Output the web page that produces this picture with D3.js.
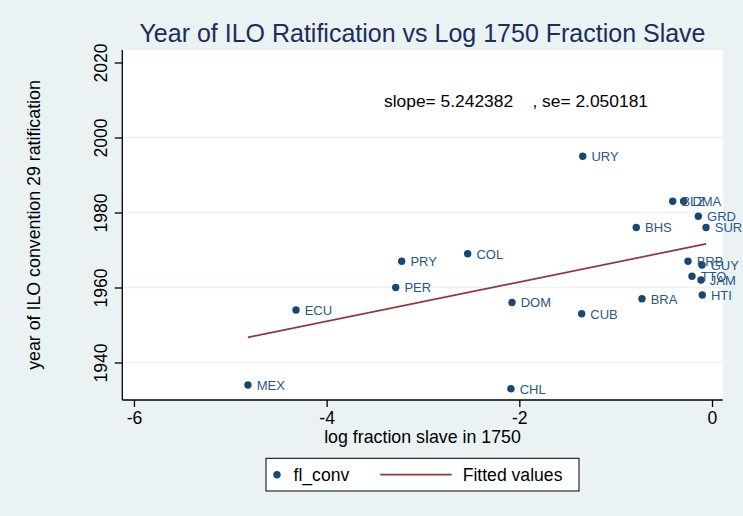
<!DOCTYPE html>
<html>
<head>
<meta charset="utf-8">
<script src="https://cdn.jsdelivr.net/npm/d3@7"></script>
<style>
  html, body { margin: 0; padding: 0; background: #eaf2f3; }
  svg { display: block; font-family: "Liberation Sans", Arial, sans-serif; }
</style>
</head>
<body>
<svg id="chart" width="743" height="516"></svg>
<script>
// ---- data ----
const countries = ["MEX","ECU","PER","PRY","COL","DOM","CHL","URY","CUB","BRA","BHS","BLZ","DMA","GRD","SUR","BRB","GUY","TTO","JAM","HTI"];
const logFracSlave = [-4.817,-4.318,-3.283,-3.221,-2.536,-2.076,-2.087,-1.342,-1.353,-0.727,-0.786,-0.408,-0.294,-0.142,-0.062,-0.249,-0.104,-0.208,-0.114,-0.101];
const ratYear = [1934,1954,1960,1967,1969,1956,1933,1995,1953,1957,1976,1983,1983,1979,1976,1967,1966,1963,1962,1958];
const xTicks = [-6,-4,-2,0];
const yTicks = [1940,1960,1980,2000,2020];
const yGrid = [1940,1960,1980,2000];
const slope = 5.242382;
const se = 2.050181;
const titleText = "Year of ILO Ratification vs Log 1750 Fraction Slave";
const xTitle = "log fraction slave in 1750";
const yTitle = "year of ILO convention 29 ratification";
const legendLabels = ["fl_conv", "Fitted values"];

// ---- layout ----
const svg = d3.select("#chart");
const W = 743, H = 516;
const plot = {l: 122.3, r: 722.7, t: 50, b: 400};
const navy = "#1a476f", maroon = "#90353b", bg = "#eaf2f3";

svg.append("rect").attr("width", W).attr("height", H).attr("fill", bg);
svg.append("rect").attr("x", plot.l).attr("y", plot.t)
  .attr("width", plot.r - plot.l).attr("height", plot.b - plot.t).attr("fill", "#fff");

const x = d3.scaleLinear().domain([-6.121, 0.111]).range([plot.l, plot.r]);
const y = d3.scaleLinear().domain([1930, 2023.333]).range([plot.b, plot.t]);

// gridlines
svg.append("g").selectAll("line").data(yGrid).join("line")
  .attr("x1", plot.l).attr("x2", plot.r)
  .attr("y1", d => y(d)).attr("y2", d => y(d))
  .attr("stroke", bg).attr("stroke-width", 1.6);

// axes
const xAxis = d3.axisBottom(x).tickValues(xTicks).tickSize(7).tickPadding(5).tickFormat(d3.format("d"));
const gx = svg.append("g").attr("transform", `translate(0,${plot.b})`).call(xAxis);
gx.select(".domain").attr("d", `M${plot.l},0H${plot.r}`).attr("stroke", "#000").attr("stroke-width", 1.3);
gx.selectAll(".tick line").attr("stroke", "#000").attr("stroke-width", 1.3);
gx.selectAll(".tick text").attr("font-size", 17.6).attr("fill", "#000")
  .attr("font-family", "Liberation Sans, Arial, sans-serif").attr("dy", "0.71em")
  .text(d => d < 0 ? "-" + Math.abs(d) : String(d));

const yAxis = d3.axisLeft(y).tickValues(yTicks).tickSize(7.5).tickFormat(d3.format("d"));
const gy = svg.append("g").attr("transform", `translate(${plot.l},0)`).call(yAxis);
gy.select(".domain").attr("d", `M0,${plot.b}V${plot.t}`).attr("stroke", "#000").attr("stroke-width", 1.3);
gy.selectAll(".tick line").attr("stroke", "#000").attr("stroke-width", 1.3);
gy.selectAll(".tick text")
  .attr("font-size", 17.6).attr("fill", "#000")
  .attr("font-family", "Liberation Sans, Arial, sans-serif")
  .attr("x", null).attr("dy", null)
  .attr("text-anchor", "middle")
  .attr("transform", "translate(-15.5,0) rotate(-90)");

// fitted line
const n = logFracSlave.length;
const mx = d3.mean(logFracSlave), my = d3.mean(ratYear);
const intercept = my - slope * mx;
const xExt = d3.extent(logFracSlave);
const line = d3.line().x(d => x(d)).y(d => y(intercept + slope * d));
svg.append("path").datum(xExt).attr("d", line)
  .attr("fill", "none").attr("stroke", maroon).attr("stroke-width", 1.7);

// points
const pts = countries.map((c, i) => ({c, x: logFracSlave[i], y: ratYear[i]}));
svg.append("g").selectAll("circle").data(pts).join("circle")
  .attr("cx", d => x(d.x)).attr("cy", d => y(d.y)).attr("r", 3.7).attr("fill", navy);
svg.append("g").selectAll("text").data(pts).join("text")
  .attr("x", d => x(d.x) + 8.7).attr("y", d => y(d.y) + 5)
  .attr("font-size", 13).attr("fill", "#2a5788").text(d => d.c);

// annotation
svg.append("text").attr("x", 384).attr("y", 106.5).attr("font-size", 17.4)
  .attr("fill", "#000").style("white-space", "pre")
  .text(`slope= ${slope.toFixed(6)}    , se= ${se.toFixed(6)}`);

// title
svg.append("text").attr("x", (plot.l + plot.r) / 2).attr("y", 42)
  .attr("text-anchor", "middle").attr("font-size", 25).attr("fill", "#1c2d5c").text(titleText);

// axis titles
svg.append("text").attr("x", (plot.l + plot.r) / 2).attr("y", 443)
  .attr("text-anchor", "middle").attr("font-size", 17.8).attr("fill", "#000").text(xTitle);
svg.append("text").attr("transform", `translate(40,${(plot.t + plot.b) / 2}) rotate(-90)`)
  .attr("text-anchor", "middle").attr("font-size", 17.8).attr("fill", "#000").text(yTitle);

// legend
const lg = svg.append("g");
lg.append("rect").attr("x", 266).attr("y", 458.3).attr("width", 313).attr("height", 32.7)
  .attr("fill", "#fff").attr("stroke", "#000").attr("stroke-width", 1);
lg.append("circle").attr("cx", 277).attr("cy", 474.7).attr("r", 3.7).attr("fill", navy);
lg.append("text").attr("x", 293.5).attr("y", 481.3).attr("font-size", 17.6).attr("fill", "#000").text(legendLabels[0]);
lg.append("line").attr("x1", 380.3).attr("x2", 451.7).attr("y1", 474.7).attr("y2", 474.7)
  .attr("stroke", maroon).attr("stroke-width", 1.7);
lg.append("text").attr("x", 462.7).attr("y", 481.3).attr("font-size", 17.6).attr("fill", "#000").text(legendLabels[1]);
</script>
</body>
</html>
